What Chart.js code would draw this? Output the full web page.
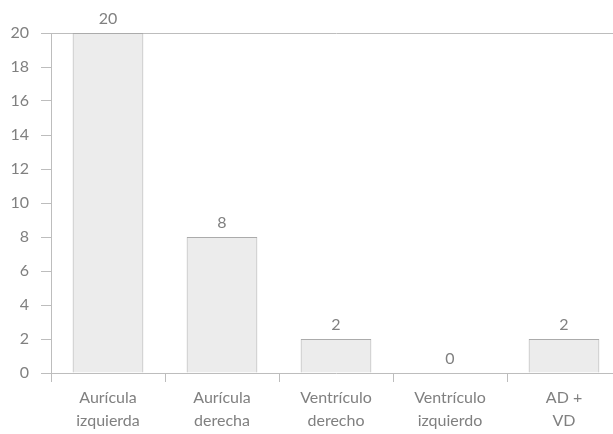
<!DOCTYPE html>
<html>
<head>
<meta charset="utf-8">
<script src="https://cdn.jsdelivr.net/npm/chart.js@4"></script>
<style>
  html, body { margin: 0; padding: 0; background: #fff; overflow: hidden; }
  #wrap { width: 621px; height: 434px; }
</style>
</head>
<body>
<div id="wrap"><canvas id="chart"></canvas></div>
<script>
// Data
const categories = [
    ['Aurícula', 'izquierda'],
    ['Aurícula', 'derecha'],
    ['Ventrículo', 'derecho'],
    ['Ventrículo', 'izquierdo'],
    ['AD +', 'VD']
];
const counts = [20, 8, 2, 0, 2];
const yTicks = [0, 2, 4, 6, 8, 10, 12, 14, 16, 18, 20];

const FONT = 'Lato, "Open Sans", sans-serif';
const TEXT = '#808080';
const LINE = '#bdbdbd';

// value labels above each bar
const valueLabels = {
    id: 'valueLabels',
    afterDatasetsDraw(chart) {
        const ctx = chart.ctx;
        const meta = chart.getDatasetMeta(0);
        ctx.save();
        ctx.font = '16px ' + FONT;
        ctx.fillStyle = TEXT;
        ctx.textAlign = 'center';
        ctx.textBaseline = 'bottom';
        meta.data.forEach((bar, i) => {
            ctx.fillText(String(counts[i]), bar.x, bar.y - 6);
        });
        ctx.restore();
    }
};

new Chart(document.getElementById('chart'), {
    type: 'bar',
    data: {
        labels: categories,
        datasets: [{
            data: counts,
            backgroundColor: '#ececec',
            borderColor: '#ababab',
            borderWidth: 1,
            barPercentage: 0.62,
            categoryPercentage: 1
        }]
    },
    options: {
        responsive: true,
        maintainAspectRatio: false,
        animation: false,
        layout: { padding: { top: 33, right: 0, left: 0, bottom: 0 } },
        plugins: { legend: { display: false }, tooltip: { enabled: false } },
        scales: {
            x: {
                offset: true,
                afterFit: s => { s.height = 61; },
                grid: {
                    offset: true,
                    drawOnChartArea: false,
                    tickLength: 9,
                    tickColor: LINE
                },
                border: { color: LINE, width: 1 },
                ticks: {
                    color: TEXT,
                    font: { family: FONT, size: 16, lineHeight: 1.4 },
                    padding: 5,
                    maxRotation: 0
                }
            },
            y: {
                min: 0,
                max: 20,
                afterFit: s => { s.width = 51; },
                afterBuildTicks: s => { s.ticks = yTicks.map(v => ({ value: v })); },
                grid: {
                    color: c => (c.tick && c.tick.value === 20 ? LINE : 'rgba(0,0,0,0)'),
                    tickColor: LINE,
                    tickLength: 10
                },
                border: { color: LINE, width: 1 },
                ticks: {
                    color: TEXT,
                    font: { family: FONT, size: 16 },
                    padding: 12
                }
            }
        }
    },
    plugins: [valueLabels]
});
</script>
</body>
</html>
